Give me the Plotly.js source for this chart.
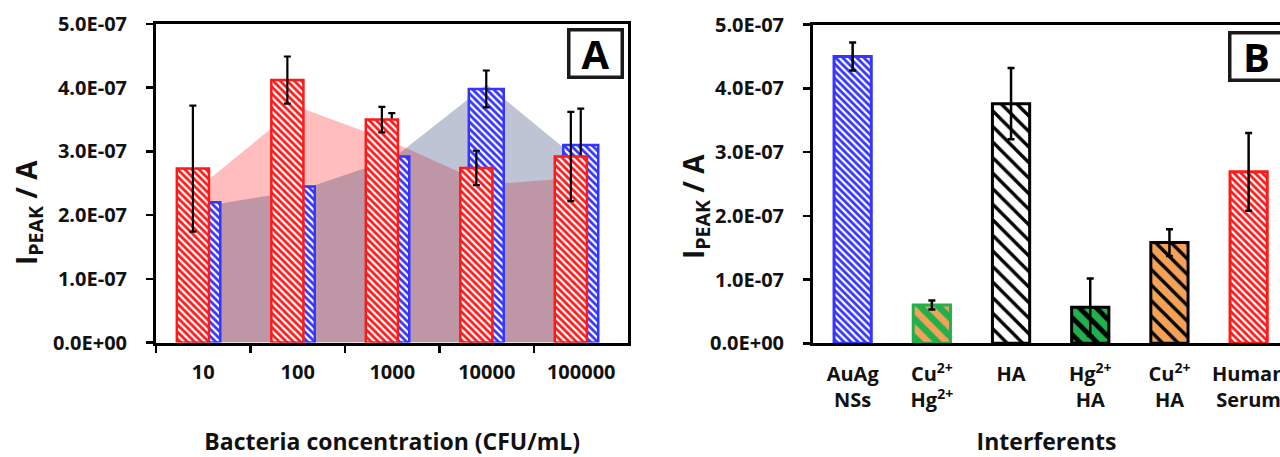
<!DOCTYPE html>
<html><head><meta charset="utf-8">
<script src="https://cdn.plot.ly/plotly-3.0.1.min.js"></script>
<style>html,body{margin:0;padding:0;background:#fff;overflow:hidden}#chart{width:1280px;height:457px}</style>
</head><body><div id="chart"></div>
<script>
// ---- Panel A data ----
const concentrations = ['10', '100', '1000', '10000', '100000'];
const redValues  = [2.73e-7, 4.12e-7, 3.50e-7, 2.74e-7, 2.92e-7];
const redErrors  = [0.99e-7, 0.37e-7, 0.20e-7, 0.27e-7, 0.70e-7];
const blueValues = [2.20e-7, 2.45e-7, 2.92e-7, 3.98e-7, 3.10e-7];
const blueErrors = [0.25e-7, 0.30e-7, 0.68e-7, 0.29e-7, 0.57e-7];
const redArea    = [2.49e-7, 3.70e-7, 3.15e-7, 2.48e-7, 2.59e-7];
const blueArea   = [2.14e-7, 2.38e-7, 2.88e-7, 4.05e-7, 2.83e-7];
// ---- Panel B data ----
const interferents = ['AuAg<br>NSs', 'Cu<sup>2+</sup><br>Hg<sup>2+</sup>', 'HA', 'Hg<sup>2+</sup><br>HA', 'Cu<sup>2+</sup><br>HA', 'Human<br>Serum'];
const interfValues = [4.50e-7, 0.60e-7, 3.76e-7, 0.565e-7, 1.58e-7, 2.69e-7];
const interfErrors = [0.22e-7, 0.07e-7, 0.56e-7, 0.45e-7, 0.21e-7, 0.61e-7];
// ---- Tick labels ----
const yTickVals = [0, 1e-7, 2e-7, 3e-7, 4e-7, 5e-7];
const yTickText = ['0.0E+00', '1.0E-07', '2.0E-07', '3.0E-07', '4.0E-07', '5.0E-07'];

const FONT = '"Open Sans", Lato, sans-serif';
const RED = '#ff1a1a', BLUE = '#3535ff', GREEN = '#22b04c', ORANGE = '#f4a257';

const traces = [
  {type: 'scatter', x: concentrations, y: redArea, mode: 'none', fill: 'tozeroy',
   fillcolor: 'rgba(255,0,0,0.26)', xaxis: 'x', yaxis: 'y', hoverinfo: 'skip'},
  {type: 'scatter', x: concentrations, y: blueArea, mode: 'none', fill: 'tozeroy',
   fillcolor: 'rgba(40,60,110,0.30)', xaxis: 'x', yaxis: 'y', hoverinfo: 'skip'},
  {type: 'bar', x: concentrations, y: blueValues, xaxis: 'x3', yaxis: 'y3',
   width: 0.37, offset: -0.19,
   marker: {color: BLUE, line: {color: BLUE, width: 2.5},
            pattern: {shape: '\\', fgcolor: '#ffffff', bgcolor: BLUE, size: 5, solidity: 0.45}},
   error_y: {type: 'data', array: blueErrors, visible: true, color: '#000', thickness: 2.2, width: 3.5}},
  {type: 'bar', x: concentrations, y: redValues, xaxis: 'x3', yaxis: 'y3',
   width: 0.34, offset: -0.28,
   marker: {color: RED, line: {color: RED, width: 2.5},
            pattern: {shape: '\\', fgcolor: '#ffffff', bgcolor: RED, size: 5, solidity: 0.45}},
   error_y: {type: 'data', array: redErrors, visible: true, color: '#000', thickness: 2.2, width: 3.5}},
  {type: 'bar', x: interferents, y: interfValues, xaxis: 'x2', yaxis: 'y2', width: 0.47,
   marker: {line: {color: [BLUE, GREEN, '#000000', '#000000', '#000000', RED], width: 3},
            pattern: {shape: '\\', fillmode: 'replace',
                      bgcolor: [BLUE, GREEN, '#ffffff', GREEN, ORANGE, RED],
                      fgcolor: ['#ffffff', ORANGE, '#000000', '#000000', '#000000', '#ffffff'],
                      size: [5, 13, 11, 12, 11, 5],
                      solidity: [0.45, 0.5, 0.3, 0.4, 0.3, 0.45]}},
   error_y: {type: 'data', array: interfErrors, visible: true, color: '#000', thickness: 2.5, width: 3.5}}
];

const tickFont = {family: FONT, size: 20, color: '#111', weight: 'bold'};
const titleFont = {family: FONT, size: 23, color: '#111', weight: 'bold'};

const layout = {
  width: 1280, height: 457,
  margin: {l: 0, r: 0, t: 0, b: 0},
  paper_bgcolor: '#fff', plot_bgcolor: 'rgba(0,0,0,0)',
  showlegend: false, hovermode: false, barmode: 'overlay',
  xaxis: {domain: [0.1219, 0.491], type: 'category', categoryarray: concentrations, range: [-0.5, 4.5],
          anchor: 'y', showline: true, linewidth: 3, linecolor: '#000', mirror: true,
          ticks: 'outside', tickson: 'boundaries', ticklen: 7, tickwidth: 2.5, tickcolor: '#000',
          tickfont: tickFont, ticklabelstandoff: 9, showgrid: false, zeroline: false,
          title: {text: 'Bacteria concentration (CFU/mL)', font: titleFont, standoff: 55}},
  yaxis: {domain: [0.2505, 0.9475], range: [0, 5e-7], anchor: 'x',
          tickvals: yTickVals, ticktext: yTickText, ticks: 'outside', ticklen: 7, tickwidth: 2.5, tickcolor: '#000',
          tickfont: tickFont, ticklabelstandoff: 15, showline: true, linewidth: 3, linecolor: '#000', mirror: true,
          showgrid: false, zeroline: false},
  xaxis3: {overlaying: 'x', anchor: 'y3', type: 'category', categoryarray: concentrations, range: [-0.5, 4.5], visible: false},
  yaxis3: {overlaying: 'y', anchor: 'x3', range: [0, 5e-7], visible: false},
  xaxis2: {domain: [0.6352, 1], type: 'category', categoryarray: interferents, range: [-0.5, 5.396],
           anchor: 'y2', showline: true, linewidth: 3, linecolor: '#000', mirror: true,
           ticks: '', tickfont: tickFont, ticklabelstandoff: 11, showgrid: false, zeroline: false,
           title: {text: 'Interferents', font: titleFont, standoff: 30}},
  yaxis2: {domain: [0.2488, 0.9462], range: [0, 5e-7], anchor: 'x2',
           tickvals: yTickVals, ticktext: yTickText, ticks: 'outside', ticklen: 7, tickwidth: 2.5, tickcolor: '#000',
           tickfont: tickFont, ticklabelstandoff: 15, showline: true, linewidth: 3, linecolor: '#000', mirror: false,
           showgrid: false, zeroline: false},
  annotations: [
    {xref: 'paper', yref: 'paper', x: 28 / 1280, y: (457 - 213) / 457, xanchor: 'center', yanchor: 'middle',
     text: 'I<sub>PEAK</sub> / A', textangle: -90, showarrow: false,
     font: {family: FONT, size: 28, color: '#111', weight: 'bold'}},
    {xref: 'paper', yref: 'paper', x: 695 / 1280, y: (457 - 207) / 457, xanchor: 'center', yanchor: 'middle',
     text: 'I<sub>PEAK</sub> / A', textangle: -90, showarrow: false,
     font: {family: FONT, size: 28, color: '#111', weight: 'bold'}},
    {xref: 'paper', yref: 'paper', x: 595 / 1280, y: (457 - 53) / 457, xanchor: 'center', yanchor: 'middle',
     text: 'A', showarrow: false, width: 46, height: 40, borderpad: 2, borderwidth: 3.5,
     bordercolor: '#1a1a1a', bgcolor: '#fff', font: {family: FONT, size: 40, color: '#000', weight: 'bold'}},
    {xref: 'paper', yref: 'paper', x: 1256.5 / 1280, y: (457 - 56.5) / 457, xanchor: 'center', yanchor: 'middle',
     text: 'B', showarrow: false, width: 46, height: 40, borderpad: 2, borderwidth: 3.5,
     bordercolor: '#1a1a1a', bgcolor: '#fff', font: {family: FONT, size: 40, color: '#000', weight: 'bold'}}
  ]
};

Plotly.newPlot('chart', traces, layout, {staticPlot: true, displayModeBar: false});
</script>
</body></html>
